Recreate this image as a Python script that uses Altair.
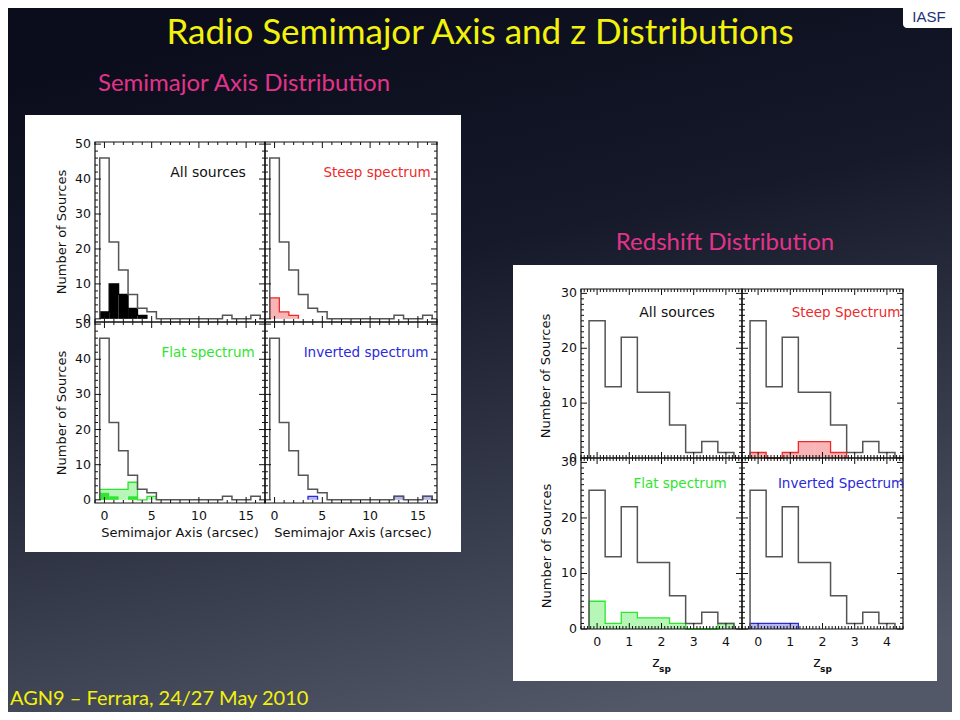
import altair as alt
import pandas as pd

W, H = 944, 704
M = 8  # page margin

# ---------------- data ----------------
sma_centers = list(range(0, 17))
sma_all = [46, 22, 14, 7, 3, 2, 0, 0, 0, 0, 0, 0, 0, 1, 0, 0, 1]
sma_black = [2, 10, 7, 3, 1, 0, 0, 0, 0, 0, 0, 0, 0, 0, 0, 0, 0]
sma_steep = [6, 2, 1, 0, 0, 0, 0, 0, 0, 0, 0, 0, 0, 0, 0, 0, 0]
sma_flat = [3, 3, 3, 5, 0, 1, 0, 0, 0, 0, 0, 0, 0, 0, 0, 0, 0]
sma_flat_solid = [2, 1, 0, 1, 0, 0, 0, 0, 0, 0, 0, 0, 0, 0, 0, 0, 0]
sma_inv = [0, 0, 0, 0, 1, 0, 0, 0, 0, 0, 0, 0, 0, 1, 0, 0, 1]

z_centers = [0, 0.5, 1.0, 1.5, 2.0, 2.5, 3.0, 3.5, 4.0]
z_all = [25, 13, 22, 12, 12, 6, 1, 3, 1]
z_steep = [1, 0, 1, 3, 3, 1, 0, 0, 0]
z_flat = [5, 1, 3, 2, 2, 1, 0, 0, 1]
z_inv = [1, 1, 1, 0, 0, 0, 0, 0, 0]

sma_xticks = [0, 5, 10, 15]
sma_yticks = [0, 10, 20, 30, 40, 50]
z_xticks = [0, 1, 2, 3, 4]
z_yticks = [0, 10, 20, 30]

GRAY = "#555555"
RED = "#ee2a2a"
GREEN = "#2ee62e"
BLUE = "#2a2ad8"
IDLFONT = "DejaVu Sans"


def step_df(centers, counts, width):
    xs = [centers[0] - width / 2]
    ys = [0]
    for c, n in zip(centers, counts):
        xs.append(c - width / 2)
        ys.append(n)
    xs.append(centers[-1] + width / 2)
    ys.append(0)
    return pd.DataFrame({"x": xs, "y": ys, "i": list(range(len(xs)))})


def trimmed_step(centers, counts, width):
    idx = [k for k, n in enumerate(counts) if n > 0]
    a, b = idx[0], idx[-1]
    return step_df(centers[a:b + 1], counts[a:b + 1], width)


def bars_df(centers, counts, width):
    rows = [(c - width / 2, c + width / 2, 0, n) for c, n in zip(centers, counts) if n > 0]
    return pd.DataFrame(rows, columns=["x0", "x1", "y0", "y1"])


def frange(a, b, s):
    out = []
    v = a
    while v <= b + 1e-9:
        out.append(round(v, 4))
        v += s
    return out


def panel(xdom, ydom, xpx, ypx, outline, fills, xmajor, xminor, ymajor, yminor,
          xlabels=False, ylabels=False):
    xs = alt.Scale(domain=xdom, range=[xpx[0] - M, xpx[1] - M], nice=False, zero=False)
    ys = alt.Scale(domain=ydom, range=[ypx[0] - M, ypx[1] - M], nice=False, zero=False)
    layers = []
    for df_bars, df_line, color, op in fills:
        if df_bars is not None and len(df_bars):
            layers.append(
                alt.Chart(df_bars).mark_rect(color=color, opacity=op, strokeWidth=0).encode(
                    x=alt.X("x0:Q", scale=xs, axis=None), x2="x1:Q",
                    y=alt.Y("y0:Q", scale=ys, axis=None), y2="y1:Q"))
        if df_line is not None:
            layers.append(
                alt.Chart(df_line).mark_line(color=color, strokeWidth=1.3,
                                             interpolate="step-after").encode(
                    x=alt.X("x:Q", scale=xs, axis=None),
                    y=alt.Y("y:Q", scale=ys, axis=None),
                    order=alt.Order("i:Q")))
    layers.append(
        alt.Chart(outline).mark_line(color=GRAY, strokeWidth=1.5,
                                     interpolate="step-after").encode(
            x=alt.X("x:Q", scale=xs, axis=None),
            y=alt.Y("y:Q", scale=ys, axis=None),
            order=alt.Order("i:Q")))
    fr = pd.DataFrame({"x0": [xdom[0]], "x1": [xdom[1]], "y0": [ydom[0]], "y1": [ydom[1]]})
    layers.append(
        alt.Chart(fr).mark_rect(fillOpacity=0, stroke="#111111", strokeWidth=1.2).encode(
            x=alt.X("x0:Q", scale=xs, axis=None), x2="x1:Q",
            y=alt.Y("y0:Q", scale=ys, axis=None), y2="y1:Q"))
    for vals, L in ((xmajor, 6), (xminor, 3)):
        for e, off in ((ydom[0], -L / 2), (ydom[1], L / 2)):
            d = pd.DataFrame({"t": vals, "e": [e] * len(vals)})
            layers.append(
                alt.Chart(d).mark_tick(orient="vertical", size=L, thickness=1,
                                       yOffset=off, color="#111111", opacity=1).encode(
                    x=alt.X("t:Q", scale=xs, axis=None),
                    y=alt.Y("e:Q", scale=ys, axis=None)))
    for vals, L in ((ymajor, 6), (yminor, 3)):
        for e, off in ((xdom[0], L / 2), (xdom[1], -L / 2)):
            d = pd.DataFrame({"t": vals, "e": [e] * len(vals)})
            layers.append(
                alt.Chart(d).mark_tick(orient="horizontal", size=L, thickness=1,
                                       xOffset=off, color="#111111", opacity=1).encode(
                    y=alt.Y("t:Q", scale=ys, axis=None),
                    x=alt.X("e:Q", scale=xs, axis=None)))
    if xlabels:
        d = pd.DataFrame({"t": xmajor, "e": [ydom[0]] * len(xmajor),
                          "s": [str(v) for v in xmajor]})
        layers.append(
            alt.Chart(d).mark_text(font=IDLFONT, fontSize=12.5, color="#111111",
                                   baseline="middle", dy=13).encode(
                x=alt.X("t:Q", scale=xs, axis=None),
                y=alt.Y("e:Q", scale=ys, axis=None), text="s:N"))
    if ylabels:
        d = pd.DataFrame({"t": ymajor, "e": [xdom[0]] * len(ymajor),
                          "s": [str(v) for v in ymajor]})
        layers.append(
            alt.Chart(d).mark_text(font=IDLFONT, fontSize=12.5, color="#111111",
                                   align="right", baseline="middle", dx=-4).encode(
                y=alt.Y("t:Q", scale=ys, axis=None),
                x=alt.X("e:Q", scale=xs, axis=None), text="s:N"))
    return alt.layer(*layers)


one = pd.DataFrame({"a": [0]})


def txt(s, x, y, size, color, font=IDLFONT, angle=0, align="center", weight="normal",
        baseline="middle"):
    return alt.Chart(one).mark_text(text=s, font=font, fontSize=size, color=color,
                                    angle=angle, align=align, baseline=baseline,
                                    fontWeight=weight).encode(
        x=alt.value(x - M), y=alt.value(y - M))


def box(x0, y0, x1, y1, color, **kw):
    return alt.Chart(one).mark_rect(color=color, **kw).encode(
        x=alt.value(x0 - M), x2=alt.value(x1 - M), y=alt.value(y0 - M), y2=alt.value(y1 - M))


bg = alt.Chart(one).mark_rect(
    color=alt.LinearGradient(
        gradient="linear", x1=0.35, y1=0, x2=0.65, y2=1,
        stops=[alt.GradientStop(offset=0, color="#0b0d1c"),
               alt.GradientStop(offset=0.35, color="#151929"),
               alt.GradientStop(offset=1, color="#535868")])).encode(
    x=alt.value(0), x2=alt.value(W), y=alt.value(0), y2=alt.value(H))

# ---------------- semimajor axis panels ----------------
SX = [-1, 17]
SY = [-0.9, 50.6]
sx_minor = [v for v in frange(-1, 17, 1) if v not in sma_xticks]
sy_minor = [v for v in frange(0, 50, 2) if v not in sma_yticks]
s_out = step_df(sma_centers, sma_all, 1)

p1 = panel(SX, SY, (95, 265), (322, 142), s_out,
           [(bars_df(sma_centers, sma_black, 1), trimmed_step(sma_centers, sma_black, 1), "#000000", 1)],
           sma_xticks, sx_minor, sma_yticks, sy_minor, ylabels=True)
p2 = panel(SX, SY, (265, 437), (322, 142), s_out,
           [(bars_df(sma_centers, sma_steep, 1), trimmed_step(sma_centers, sma_steep, 1), RED, 0.35)],
           sma_xticks, sx_minor, sma_yticks, sy_minor)
p3 = panel(SX, SY, (95, 265), (503, 322), s_out,
           [(bars_df(sma_centers, sma_flat, 1), trimmed_step(sma_centers, sma_flat, 1), GREEN, 0.35),
            (bars_df(sma_centers, sma_flat_solid, 1), None, GREEN, 1)],
           sma_xticks, sx_minor, sma_yticks, sy_minor, xlabels=True, ylabels=True)
inv_bins = [c for c, n in zip(sma_centers, sma_inv) if n > 0]
inv_lines = [step_df([c], [1], 1) for c in inv_bins]
p4_fills = [(bars_df(sma_centers, sma_inv, 1), None, BLUE, 0.35)] + [(None, l, BLUE, 1) for l in inv_lines]
p4 = panel(SX, SY, (265, 437), (503, 322), s_out, p4_fills,
           sma_xticks, sx_minor, sma_yticks, sy_minor, xlabels=True)

# ---------------- redshift panels ----------------
ZX = [-0.5, 4.5]
ZY = [0, 30.8]
zx_minor = [v for v in frange(-0.5, 4.5, 0.1) if v not in z_xticks]
zy_minor = [v for v in frange(0, 30, 1) if v not in z_yticks]
z_out = step_df(z_centers, z_all, 0.5)

q1 = panel(ZX, ZY, (581, 742), (458, 289), z_out, [],
           z_xticks, zx_minor, z_yticks, zy_minor, ylabels=True)
q2 = panel(ZX, ZY, (742, 903), (458, 289), z_out,
           [(bars_df(z_centers, z_steep, 0.5), trimmed_step(z_centers, z_steep, 0.5), RED, 0.35)],
           z_xticks, zx_minor, z_yticks, zy_minor)
q3 = panel(ZX, ZY, (581, 742), (629, 458), z_out,
           [(bars_df(z_centers, z_flat, 0.5), trimmed_step(z_centers, z_flat, 0.5), GREEN, 0.35)],
           z_xticks, zx_minor, z_yticks, zy_minor, xlabels=True, ylabels=True)
q4 = panel(ZX, ZY, (742, 903), (629, 458), z_out,
           [(bars_df(z_centers, z_inv, 0.5), trimmed_step(z_centers, z_inv, 0.5), BLUE, 0.35)],
           z_xticks, zx_minor, z_yticks, zy_minor, xlabels=True)

# ---------------- texts ----------------
YEL = "#f2f20c"
PINK = "#e2338a"
texts = [
    txt("Radio Semimajor Axis and z Distributions", 480, 44, 35, YEL, font="Lato",
        baseline="alphabetic"),
    txt("Semimajor Axis Distribution", 244, 84, 24, PINK, font="Lato"),
    txt("Redshift Distribution", 725, 243, 24, PINK, font="Lato"),
    txt("AGN9 \u2013 Ferrara, 24/27 May 2010", 10, 699, 20, YEL, font="Lato", align="left"),
    txt("All sources", 208, 173, 14, "#111111"),
    txt("Steep spectrum", 377, 173, 13.5, RED),
    txt("Flat spectrum", 208, 353, 13.5, GREEN),
    txt("Inverted spectrum", 366, 353, 13.5, BLUE),
    txt("All sources", 677, 313, 14, "#111111"),
    txt("Steep Spectrum", 846, 313, 13.5, RED),
    txt("Flat spectrum", 680, 484, 13.5, GREEN),
    txt("Inverted Spectrum", 841, 484, 13.5, BLUE),
    txt("Number of Sources", 62, 232, 13, "#111111", angle=270),
    txt("Number of Sources", 62, 413, 13, "#111111", angle=270),
    txt("Semimajor Axis (arcsec)", 180, 533, 13, "#111111"),
    txt("Semimajor Axis (arcsec)", 353, 533, 13, "#111111"),
    txt("Number of Sources", 546, 376, 13, "#111111", angle=270),
    txt("Number of Sources", 547, 546, 13, "#111111", angle=270),
    txt("z", 656, 663, 14, "#111111"),
    txt("sp", 665, 669, 9, "#111111", weight="bold"),
    txt("z", 817, 663, 14, "#111111"),
    txt("sp", 826, 669, 9, "#111111", weight="bold"),
    txt("IASF", 929, 17, 15, "#1e3278", font="Liberation Sans"),
]

decor = [
    bg,
    box(25, 115, 461, 552, "white"),
    box(513, 265, 937, 681, "white"),
    box(903, 2, 955, 28, "white", cornerRadius=4),
]

chart = alt.layer(*decor, p1, p2, p3, p4, q1, q2, q3, q4, *texts).resolve_scale(
    x="independent", y="independent"
).properties(
    width=W, height=H, padding=0,
    autosize=alt.AutoSizeParams(type="none"),
    background="#0b0d1c",
).configure_view(stroke=None)

chart.save("out.html", embed_options={"renderer": "svg", "actions": False})
